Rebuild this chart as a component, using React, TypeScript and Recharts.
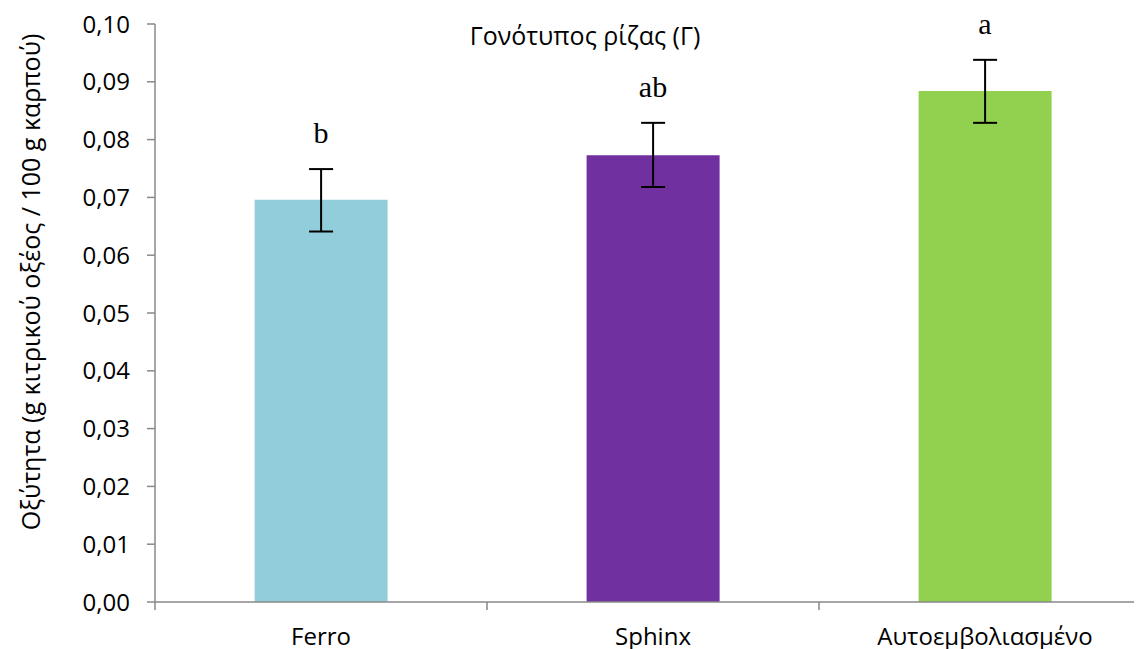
import React from 'react';
import { ComposedChart, Bar, Cell, XAxis, YAxis, ErrorBar, Line, LabelList } from 'recharts';

const categories = ['Ferro', 'Sphinx', 'Αυτοεμβολιασμένο'];
const values = [0.0696, 0.0773, 0.0884];
const errMinus = [0.0055, 0.0055, 0.0055];
const errPlus = [0.0053, 0.0056, 0.0054];
const letters = ['b', 'ab', 'a'];
const colors = ['#92CDDC', '#7030A0', '#92D050'];
const yTicks = [0, 0.01, 0.02, 0.03, 0.04, 0.05, 0.06, 0.07, 0.08, 0.09, 0.1];

const title = 'Γονότυπος ρίζας (Γ)';
const yLabel = 'Οξύτητα (g κιτρικού οξέος / 100 g καρπού)';

const data = categories.map((name, i) => ({
  name,
  value: values[i],
  err: [errMinus[i], errPlus[i]],
  top: values[i] + errPlus[i],
  letter: letters[i],
}));

const AXIS = '#898989';
const FONT = '"Open Sans", sans-serif';

const XTick = (props: any) => {
  const { x, y, payload } = props;
  const off = payload && payload.offset ? payload.offset : 0;
  return (
    <g>
      <line x1={x - off} x2={x - off} y1={y} y2={y + 8} stroke={AXIS} strokeWidth={1.5} />
      <text x={x} y={y + 43} textAnchor="middle" fontFamily={FONT} fontSize={24} fill="#000">
        {payload.value}
      </text>
    </g>
  );
};

const YLabel = () => (
  <text
    x={25}
    y={274}
    transform="rotate(-90 25 274)"
    textAnchor="middle"
    dominantBaseline="middle"
    fontFamily={FONT}
    fontSize={25}
    fill="#000"
  >
    {yLabel}
  </text>
);

export default function App() {
  return (
    <div style={{ position: 'relative', width: 1134, height: 641, overflow: 'hidden', background: '#fff' }}>
      <ComposedChart
        width={1143}
        height={641}
        data={data}
        margin={{ top: 16, right: 0, bottom: 0, left: 0 }}
        barCategoryGap="30%"
      >
        <XAxis
          dataKey="name"
          stroke={AXIS}
          strokeWidth={1.5}
          tickLine={false}
          tickSize={0}
          tickMargin={0}
          height={47}
          tick={<XTick />}
          interval={0}
        />
        <YAxis
          domain={[0, 0.1]}
          ticks={yTicks}
          width={147}
          stroke={AXIS}
          strokeWidth={1.5}
          tickSize={8}
          tickMargin={17}
          tick={{ fill: '#000', fontFamily: FONT, fontSize: 24 }}
          tickFormatter={(v: number) => v.toFixed(2).replace('.', ',')}
          label={<YLabel />}
          interval={0}
        />
        <Bar dataKey="value" isAnimationActive={false}>
          {data.map((d, i) => (
            <Cell key={d.name} fill={colors[i]} />
          ))}
          <ErrorBar dataKey="err" width={12} strokeWidth={2} stroke="#000" direction="y" />
        </Bar>
        <Line
          dataKey="top"
          stroke="none"
          dot={false}
          activeDot={false}
          isAnimationActive={false}
        >
          <LabelList
            dataKey="letter"
            position="top"
            offset={26}
            fill="#000"
            fontFamily='"Liberation Serif", "Times New Roman", serif'
            fontSize={30}
          />
        </Line>
      </ComposedChart>
      <div
        style={{
          position: 'absolute',
          left: 577,
          top: 27,
          transform: 'translate(-50%, -50%)',
          fontFamily: FONT,
          fontSize: 25,
          whiteSpace: 'nowrap',
          color: '#000',
        }}
      >
        {title}
      </div>
    </div>
  );
}
